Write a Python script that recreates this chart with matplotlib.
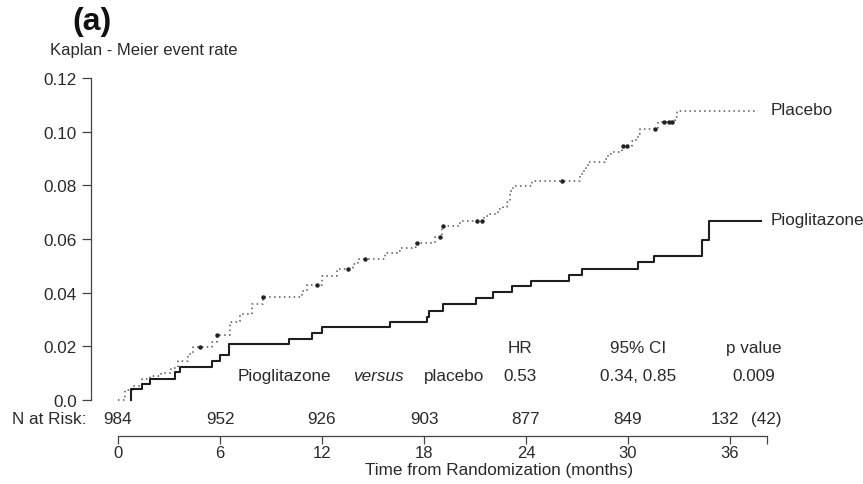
import numpy as np
import matplotlib
matplotlib.use("Agg")
import matplotlib.pyplot as plt

plt.rcParams['font.family'] = ['Liberation Sans', 'DejaVu Sans']

# Kaplan-Meier curves (months, cumulative event rate)
placebo_t = [0, 0.4, 0.9, 1.4, 1.9, 2.5, 3.1, 3.5, 4.1, 4.4, 5.5, 5.8, 6.6, 7.2, 7.9, 8.5,
             10.8, 11.1, 12.0, 12.9, 13.8, 14.1, 15.7, 16.4, 16.6, 17.3, 17.5, 18.65, 19.05,
             20.1, 21.5, 21.9, 22.35, 22.65, 22.9, 23.05, 23.25, 24.35, 27.2, 27.35, 27.5,
             27.65, 28.65, 28.8, 29.0, 29.65, 29.7, 30.25, 30.45, 30.6, 30.7, 31.75, 32.75,
             32.9, 37.65]
placebo_r = [0, 0.0037, 0.0052, 0.0078, 0.009, 0.0101, 0.0119, 0.0146, 0.0172, 0.0198,
             0.0216, 0.0243, 0.0291, 0.0321, 0.0358, 0.0384, 0.0407, 0.0427, 0.0463, 0.0489,
             0.0507, 0.0526, 0.0549, 0.0556, 0.0567, 0.0571, 0.0585, 0.0608, 0.0649, 0.0668,
             0.0687, 0.0694, 0.0713, 0.072, 0.0739, 0.078, 0.0799, 0.0817, 0.0843, 0.0854,
             0.0873, 0.0888, 0.0899, 0.0918, 0.0925, 0.0937, 0.0948, 0.0966, 0.0974, 0.0993,
             0.1011, 0.1037, 0.1056, 0.1078, 0.1078]
placebo_censor = [4.8, 5.85, 8.5, 11.7, 13.5, 14.5, 17.6, 18.95, 19.1, 21.1, 21.4, 26.1,
                  29.72, 29.95, 31.6, 32.1, 32.4, 32.6]

pio_t = [0.75, 0.75, 1.4, 1.9, 3.35, 3.65, 5.5, 6.0, 6.55, 10.05, 11.4, 12.0, 16.0, 18.2,
         18.3, 19.1, 21.05, 22.05, 23.2, 24.3, 26.5, 27.3, 30.6, 31.5, 34.35, 34.75, 37.8]
pio_r = [0, 0.0041, 0.006, 0.0078, 0.0104, 0.0123, 0.0146, 0.0166, 0.0209, 0.0228, 0.025,
         0.0272, 0.029, 0.031, 0.0332, 0.0358, 0.0381, 0.0403, 0.0425, 0.0444, 0.0466,
         0.0489, 0.0515, 0.0537, 0.0597, 0.0668, 0.0668]

y_ticks = [0.0, 0.02, 0.04, 0.06, 0.08, 0.10, 0.12]
y_labels = ['0.0', '0.02', '0.04', '0.06', '0.08', '0.10', '0.12']
x_ticks = [0, 6, 12, 18, 24, 30, 36]
at_risk = ['984', '952', '926', '903', '877', '849', '132']

stat_head = ['HR', '95% CI', 'p value']
stat_vals = ['0.53', '0.34, 0.85', '0.009']

W, H = 863, 485
fig = plt.figure(figsize=(W / 100, H / 100), dpi=100)
ax = fig.add_axes([91 / W, 1 - 401 / H, 689 / W, 322 / H])
ax.set_xlim(-27 / 17, 662 / 17)
ax.set_ylim(0, 0.12)

ink = '#2a2a2a'
fs = 12.3

# curves
ax.step(placebo_t, placebo_r, where='post', color='#555555', lw=1.1,
        linestyle=(0, (1, 2.2)), clip_on=False)
pt = np.array(placebo_t)
pr = np.array(placebo_r)
idx = np.searchsorted(pt, placebo_censor, side='right') - 1
ax.plot(placebo_censor, pr[idx], 'o', color='#222222', ms=2.2, clip_on=False)
ax.step(pio_t, pio_r, where='post', color='#1e1e1e', lw=1.5, clip_on=False)

ax.text(38.4, placebo_r[-1] + 0.0005, 'Placebo', fontsize=fs, color=ink, va='center')
ax.text(38.4, pio_r[-1] + 0.0005, 'Pioglitazone', fontsize=fs, color=ink, va='center')

# spines and ticks
for s in ['top', 'right']:
    ax.spines[s].set_visible(False)
ax.spines['left'].set_bounds(0, 0.12)
ax.spines['left'].set_color('#444444')
ax.spines['left'].set_linewidth(0.9)
ax.spines['bottom'].set_position(('outward', 26))
ax.spines['bottom'].set_bounds(0, 38.2)
ax.spines['bottom'].set_color('#444444')
ax.spines['bottom'].set_linewidth(0.9)

ax.set_yticks(y_ticks, labels=y_labels)
ax.tick_params(axis='y', length=6.5, width=0.9, color='#444444', pad=3.5,
               labelsize=fs, labelcolor=ink)
ax.set_xticks(x_ticks + [38.2], labels=[str(v) for v in x_ticks] + [''])
ax.tick_params(axis='x', length=5.5, width=0.9, color='#444444', pad=1,
               labelsize=fs - 0.3, labelcolor=ink)

# number at risk row
risk_x = x_ticks[:-1] + [35.7]
ax.text(-6.25, -0.0068, 'N at Risk:', fontsize=fs, color=ink, va='center', clip_on=False)
for x, n in zip(risk_x, at_risk):
    ax.text(x, -0.0068, n, fontsize=fs, color=ink, ha='center', va='center', clip_on=False)
ax.text(38.15, -0.0068, '(42)', fontsize=fs, color=ink, ha='center', va='center', clip_on=False)

# hazard ratio table
for x, h, v in zip([23.65, 30.6, 37.4], stat_head, stat_vals):
    ax.text(x, 0.0194, h, fontsize=fs, color=ink, ha='center', va='center')
    ax.text(x, 0.0093, v, fontsize=fs, color=ink, ha='center', va='center')
ax.text(9.8, 0.0093, 'Pioglitazone', fontsize=fs, color=ink, ha='center', va='center')
ax.text(15.3, 0.0093, 'versus', fontsize=fs, color=ink, ha='center', va='center',
        style='italic')
ax.text(19.75, 0.0093, 'placebo', fontsize=fs, color=ink, ha='center', va='center')

fig.text(50 / W, 1 - 50 / H, 'Kaplan - Meier event rate', fontsize=12, color=ink,
         va='center')
fig.text(72 / W, 1 - 22 / H, '(a)', fontsize=23, fontweight='bold', color='#111111',
         va='center')
fig.text(499 / W, 1 - 471 / H, 'Time from Randomization (months)', fontsize=fs,
         color=ink, ha='center', va='center')

fig.savefig('out.png', dpi=100)
